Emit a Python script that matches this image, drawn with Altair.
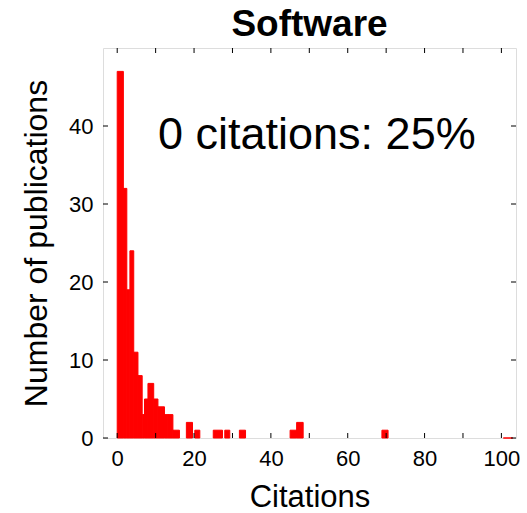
import altair as alt
import pandas as pd

# Histogram bins (citations) and counts
bin_start = [0, 1.6, 2.5, 3.3, 4.3, 5.4, 6.5, 7.1, 8.0, 9.5, 10.6, 12.3, 13.2, 14.5,
             18.0, 20.2, 25.0, 28.0, 31.8, 45.0, 46.7, 68.9, 100.5]
bin_end = [1.6, 2.5, 3.3, 4.3, 5.4, 6.5, 7.1, 8.0, 9.5, 10.6, 12.3, 13.2, 14.5, 16.2,
           19.6, 21.5, 27.4, 29.3, 33.4, 46.7, 48.4, 70.5, 103.0]
counts = [47, 32, 19, 24, 11, 8, 3, 5, 7, 5, 4, 3, 3, 1,
          2, 1, 1, 1, 1, 1, 2, 1, 0]

x_tick_values = [0, 10, 20, 30, 40, 50, 60, 70, 80, 90, 100]
x_label_values = [0, 20, 40, 60, 80, 100]
y_tick_values = [0, 10, 20, 30, 40]

title_text = "Software"
annotation_text = "0 citations: 25%"
x_title = "Citations"
y_title = "Number of publications"

FONT = "Liberation Sans"
W, H = 413, 390
x_scale = alt.Scale(domain=[-3.7, 103.8], nice=False, zero=False)
y_scale = alt.Scale(domain=[0, 50], nice=False)

x_axis = alt.Axis(values=x_label_values, title=x_title, ticks=False, domain=False,
                  grid=False, labelFontSize=22, labelFont=FONT, labelPadding=10,
                  titleFontSize=31, titleFont=FONT, titleFontWeight="normal",
                  titlePadding=13, labelColor="black", titleColor="black")
y_axis = alt.Axis(values=y_tick_values, title=y_title, ticks=False, domain=False,
                  grid=False, labelFontSize=22, labelFont=FONT, labelPadding=10,
                  titleFontSize=32, titleFont=FONT, titleFontWeight="normal",
                  titlePadding=15, labelColor="black", titleColor="black")

bars_df = pd.DataFrame({"start": bin_start, "end": bin_end, "count": counts})
xt_df = pd.DataFrame({"t": x_tick_values})
yt_df = pd.DataFrame({"t": y_tick_values})
ann_df = pd.DataFrame({"label": [annotation_text]})

bars = alt.Chart(bars_df).mark_rect(color="#ff0000", stroke="#ff0000", strokeWidth=1).encode(
    x=alt.X("start:Q", scale=x_scale, axis=x_axis),
    x2="end:Q",
    y=alt.Y("count:Q", scale=y_scale, axis=y_axis),
    y2=alt.datum(0),
)

xt_bottom = alt.Chart(xt_df).mark_rule(color="black", strokeWidth=1).encode(
    x=alt.X("t:Q", scale=x_scale, axis=x_axis), y=alt.value(H), y2=alt.value(H - 5))
xt_top = alt.Chart(xt_df).mark_rule(color="black", strokeWidth=1).encode(
    x=alt.X("t:Q", scale=x_scale, axis=x_axis), y=alt.value(0), y2=alt.value(5))
yt_left = alt.Chart(yt_df).mark_rule(color="black", strokeWidth=1).encode(
    y=alt.Y("t:Q", scale=y_scale, axis=y_axis), x=alt.value(0), x2=alt.value(5))
yt_right = alt.Chart(yt_df).mark_rule(color="black", strokeWidth=1).encode(
    y=alt.Y("t:Q", scale=y_scale, axis=y_axis), x=alt.value(W), x2=alt.value(W - 5))

ann = alt.Chart(ann_df).mark_text(
    align="left", baseline="alphabetic", fontSize=45, font=FONT, color="black"
).encode(x=alt.value(55), y=alt.value(101), text="label:N")

chart = alt.layer(bars, xt_bottom, xt_top, yt_left, yt_right, ann).properties(
    width=W, height=H,
    title=alt.TitleParams(title_text, fontSize=37, font=FONT, fontWeight="bold",
                          anchor="middle", color="black", offset=4),
    autosize=alt.AutoSizeParams(type="none"),
    padding={"left": 103, "top": 48, "right": 11, "bottom": 75},
).configure_view(stroke="#222222", strokeWidth=1).configure(background="white")

chart.save("out.html", embed_options={"renderer": "svg", "actions": False})
